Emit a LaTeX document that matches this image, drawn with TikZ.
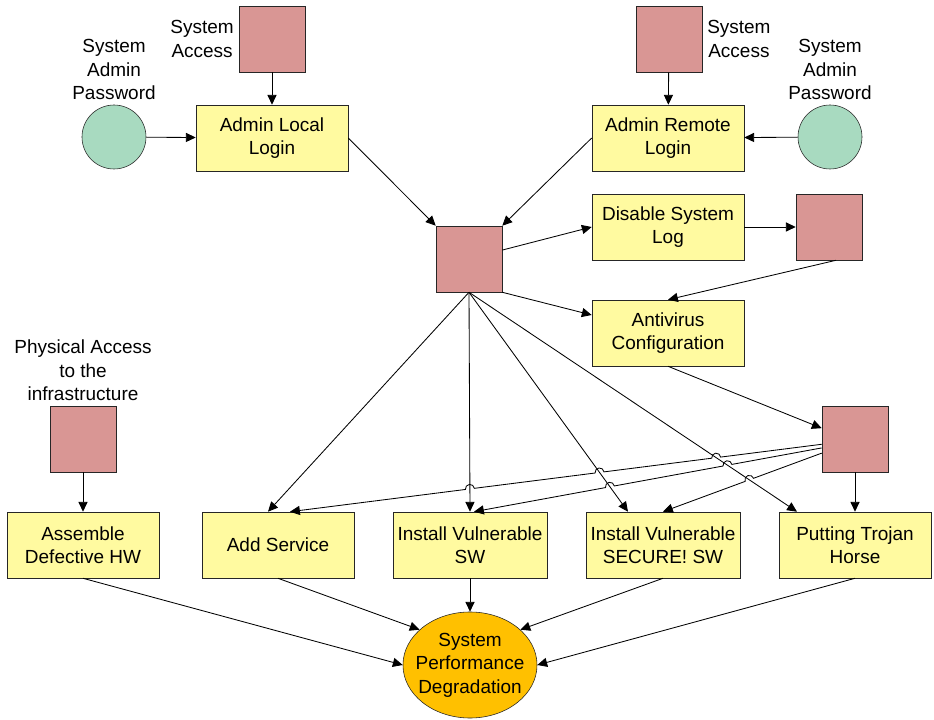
\documentclass[tikz,border=0pt]{standalone}
\usepackage{fontspec}
\setmainfont{Liberation Sans}
\usetikzlibrary{arrows.meta,shapes.geometric,shadows,intersections,calc}

\definecolor{boxyellow}{RGB}{255,250,160}
\definecolor{sqred}{RGB}{217,150,148}
\definecolor{pwgreen}{RGB}{168,218,192}
\definecolor{goalorange}{RGB}{255,192,0}
\newcommand\jumpr{3.2pt}

\tikzset{
  every node/.style={font=\fontsize{13.5}{16.6}\selectfont, align=center},
  softshadow/.style={drop shadow={shadow xshift=0.8pt, shadow yshift=-0.8pt, fill=black, opacity=0.45}},
  box/.style={draw=black!85, fill=boxyellow, minimum width=3.8cm, minimum height=1.65cm, softshadow},
  sq/.style={draw=black!85, fill=sqred, minimum width=1.65cm, minimum height=1.65cm, softshadow},
  pw/.style={circle, draw=black!85, fill=pwgreen, minimum size=1.6cm},
  goal/.style={ellipse, draw=black!85, fill=goalorange, minimum width=3.35cm, minimum height=2.65cm},
  arr/.style={-{Triangle[length=7pt,width=6.5pt]}, line width=0.6pt}
}

\begin{document}
\begin{tikzpicture}[x=0.025cm, y=-0.025cm]
  \useasboundingbox (0,0) rectangle (934,720);

  \node[sq, label=left:{System\\Access}] (sa1) at (272,39) {};
  \node[sq, label=right:{System\\Access}] (sa2) at (669,39) {};
  \node[pw, label=above:{System\\Admin\\Password}] (pw1) at (114,137) {};
  \node[pw, label=above:{System\\Admin\\Password}] (pw2) at (830,137) {};
  \node[box] (llog) at (272,138) {Admin Local\\Login};
  \node[box] (rlog) at (668,138) {Admin Remote\\Login};
  \node[sq] (mid) at (469,259) {};
  \node[box] (dis) at (668,227) {Disable System\\Log};
  \node[sq] (dsq) at (829,227) {};
  \node[box] (av) at (668,333) {Antivirus\\Configuration};
  \node[sq] (lr) at (855,439) {};
  \node[sq, label=above:{Physical Access\\to the\\infrastructure}] (phys) at (83,439) {};
  \node[box] (asm) at (83,545) {Assemble\\Defective HW};
  \node[box] (add) at (278,545) {Add Service};
  \node[box] (sw) at (470,545) {Install Vulnerable\\SW};
  \node[box] (sec) at (663,545) {Install Vulnerable\\SECURE! SW};
  \node[box] (troj) at (855,545) {Putting Trojan\\Horse};
  \node[goal, label=center:{System\\Performance\\Degradation}] (deg) at (470,665) {};

  \draw[arr] (sa1) -- (llog);
  \draw[arr] (pw1) -- (llog);
  \draw[arr] (sa2) -- (rlog);
  \draw[arr] (pw2) -- (rlog);
  \draw[arr] (llog.east) -- (mid.north west);
  \draw[arr] (rlog.west) -- (mid.north east);
  \draw[arr] (mid.15) -- (dis.west);
  \draw[arr] (mid.south east) -- ([yshift=0.45cm]av.west);
  \draw[arr] (dis) -- (dsq);
  \draw[arr] ([xshift=0.175cm]dsq.south) -- (av.north);
  \draw[arr] (av.south) -- (lr.162);
  \draw[arr] (phys) -- (asm);

  \draw[arr] (mid.south) -- ([xshift=-0.25cm]add.north);
  \draw[arr, name path=psw] (mid.south) -- (sw.north);
  \draw[arr, name path=psec] (mid.south) -- ([xshift=-0.875cm]sec.north);
  \draw[arr, name path=ptroj] (mid.south) -- ([xshift=-1.45cm]troj.north);

  \path[name path=l1] (lr.189) -- ([xshift=0.3cm]add.north);
  \path[name path=l2] (lr.195) -- ([xshift=0.1cm]sw.north);
  \path[name path=l3] (lr.203) -- (sec.north);
  \path[name intersections={of=l1 and ptroj, by=j1}];
  \path[name intersections={of=l1 and psec, by=j2}];
  \path[name intersections={of=l1 and psw, by=j3}];
  \path[name intersections={of=l2 and ptroj, by=j4}];
  \path[name intersections={of=l2 and psec, by=j5}];
  \path[name intersections={of=l3 and ptroj, by=j6}];

  \draw[arr] (lr.189) let \p1=($(lr.189)-(j1)$), \n1={atan2(\y1,\x1)} in
    -- ($(j1)!\jumpr!(lr.189)$) arc[start angle=\n1, end angle=\n1+180, radius=\jumpr]
    -- ($(j2)!\jumpr!(lr.189)$) arc[start angle=\n1, end angle=\n1+180, radius=\jumpr]
    -- ($(j3)!\jumpr!(lr.189)$) arc[start angle=\n1, end angle=\n1+180, radius=\jumpr]
    -- ([xshift=0.3cm]add.north);
  \draw[arr] (lr.195) let \p1=($(lr.195)-(j4)$), \n1={atan2(\y1,\x1)} in
    -- ($(j4)!\jumpr!(lr.195)$) arc[start angle=\n1, end angle=\n1+180, radius=\jumpr]
    -- ($(j5)!\jumpr!(lr.195)$) arc[start angle=\n1, end angle=\n1+180, radius=\jumpr]
    -- ([xshift=0.1cm]sw.north);
  \draw[arr] (lr.203) let \p1=($(lr.203)-(j6)$), \n1={atan2(\y1,\x1)} in
    -- ($(j6)!\jumpr!(lr.203)$) arc[start angle=\n1, end angle=\n1+180, radius=\jumpr]
    -- (sec.north);
  \draw[arr] (lr) -- (troj);

  \draw[arr] (asm.south) -- (deg.west);
  \draw[arr] (add.south) -- (deg.145);
  \draw[arr] (sw.south) -- (deg.north);
  \draw[arr] (sec.south) -- (deg.35);
  \draw[arr] (troj.south) -- (deg.east);
\end{tikzpicture}
\end{document}
